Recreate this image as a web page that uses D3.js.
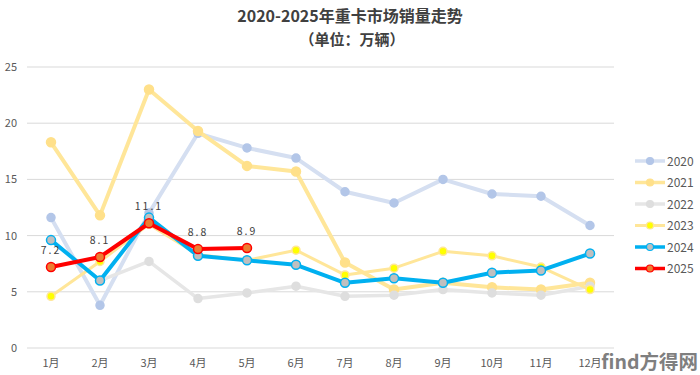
<!DOCTYPE html>
<html>
<head>
<meta charset="utf-8">
<script src="https://cdn.jsdelivr.net/npm/d3@7"></script>
<style>
  html, body { margin: 0; padding: 0; background: #fff; }
  svg { display: block; }
</style>
</head>
<body>
<div id="chart"></div>
<script>
// 2020-2025 重卡月销量（万辆）
const months = ["1月", "2月", "3月", "4月", "5月", "6月", "7月", "8月", "9月", "10月", "11月", "12月"];
const years = ["2020", "2021", "2022", "2023", "2024", "2025"];
const s2020 = [11.6, 3.8, 12.0, 19.1, 17.8, 16.9, 13.9, 12.9, 15.0, 13.7, 13.5, 10.9];
const s2021 = [18.3, 11.8, 23.0, 19.3, 16.2, 15.7, 7.6, 5.2, 5.8, 5.4, 5.2, 5.8];
const s2022 = [null, 6.0, 7.7, 4.4, 4.9, 5.5, 4.6, 4.7, 5.2, 4.9, 4.7, 5.5];
const s2023 = [4.6, 7.7, 11.0, 8.3, 7.8, 8.7, 6.5, 7.1, 8.6, 8.2, 7.2, 5.2];
const s2024 = [9.6, 6.0, 11.6, 8.2, 7.8, 7.4, 5.8, 6.2, 5.8, 6.7, 6.9, 8.4];
const s2025 = [7.2, 8.1, 11.1, 8.8, 8.9];
const yTicks = [0, 5, 10, 15, 20, 25];

const W = 700, H = 375;
const ML = 27, MR = 86, TOP = 67, BOT = 27;

// 每年样式：线色、线宽、点填充、点描边
const STY = {
  "2020": { line: "#d5dff1", w: 4, fill: "#b3c6e8", stroke: "#b3c6e8", r: 4 },
  "2021": { line: "#ffe699", w: 4, fill: "#ffe08a", stroke: "#ffe08a", r: 4.5 },
  "2022": { line: "#e6e6e6", w: 3.5, fill: "#dedede", stroke: "#dedede", r: 4 },
  "2023": { line: "#ffe699", w: 3, fill: "#ffff00", stroke: "#ffe699", r: 4 },
  "2024": { line: "#00b0f0", w: 4, fill: "#bfbfbf", stroke: "#00b0f0", r: 4.5 },
  "2025": { line: "#ff0000", w: 4, fill: "#ed7d31", stroke: "#ff0000", r: 4.5 },
};
const SERIES = [s2020, s2021, s2022, s2023, s2024, s2025];

const x = d3.scalePoint().domain(months).range([51, 590]);
const y = d3.scaleLinear().domain([0, 25]).range([H - BOT, TOP]);

const svg = d3.select("#chart").append("svg")
  .attr("width", W).attr("height", H)
  .attr("viewBox", `0 0 ${W} ${H}`);

const FONT = `"Noto Sans CJK SC", "Noto Sans", sans-serif`;

// 标题
svg.append("text").attr("x", 350).attr("y", 22)
  .attr("text-anchor", "middle")
  .attr("style", `font:bold 16px ${FONT};fill:#404040`)
  .text("2020-2025年重卡市场销量走势");
svg.append("text").attr("x", 352).attr("y", 45)
  .attr("text-anchor", "middle")
  .attr("style", `font:bold 15px ${FONT};fill:#404040`)
  .text("（单位：万辆）");

// 网格 + y 刻度
yTicks.forEach(v => {
  svg.append("line").attr("x1", ML).attr("x2", W - MR)
    .attr("y1", y(v)).attr("y2", y(v))
    .attr("stroke", "#d9d9d9").attr("stroke-width", 1);
  svg.append("text").attr("x", 17).attr("y", y(v) + 4)
    .attr("text-anchor", "end")
    .attr("style", `font:11px ${FONT};fill:#595959`)
    .text(v);
});

// 水印（先画，刻度文字压在上面）
svg.append("text").attr("x", 698).attr("y", 369)
  .attr("text-anchor", "end")
  .attr("style", `font:bold 19.5px ${FONT};fill:#4a4a4a;opacity:0.7`)
  .text("find方得网");

// x 刻度
months.forEach(m => {
  svg.append("text").attr("x", x(m)).attr("y", H - 8)
    .attr("text-anchor", "middle")
    .attr("style", `font:11px ${FONT};fill:#595959`)
    .text(m);
});

// 折线
const line = d3.line()
  .defined(d => d.v != null)
  .x(d => x(d.m)).y(d => y(d.v));

years.forEach((yr, i) => {
  const st = STY[yr];
  const pts = SERIES[i].map((v, j) => ({ m: months[j], v }));
  svg.append("path").attr("d", line(pts))
    .attr("fill", "none").attr("stroke", st.line)
    .attr("stroke-width", st.w).attr("stroke-linejoin", "round");
  svg.append("g").selectAll("circle")
    .data(pts.filter(d => d.v != null)).join("circle")
    .attr("cx", d => x(d.m)).attr("cy", d => y(d.v)).attr("r", st.r)
    .attr("fill", st.fill).attr("stroke", st.stroke).attr("stroke-width", 1.5);
});

// 2025 数据标签
s2025.forEach((v, j) => {
  svg.append("text").attr("x", x(months[j])).attr("y", y(v) - 13)
    .attr("text-anchor", "middle")
    .attr("style", `font:10.5px ${FONT};fill:#404040;letter-spacing:2px`)
    .text(v.toFixed(1));
});

// 图例
const lg = svg.append("g").attr("transform", "translate(635, 161)");
years.forEach((yr, i) => {
  const st = STY[yr];
  const g = lg.append("g").attr("transform", `translate(0, ${i * 21.5})`);
  g.append("line").attr("x1", 0).attr("x2", 30).attr("y1", 0).attr("y2", 0)
    .attr("stroke", st.line).attr("stroke-width", Math.min(st.w, 3.5));
  g.append("circle").attr("cx", 15).attr("cy", 0).attr("r", 3.5)
    .attr("fill", st.fill).attr("stroke", st.stroke).attr("stroke-width", 1.2);
  g.append("text").attr("x", 32).attr("y", 4.5)
    .attr("style", `font:12px ${FONT};fill:#595959`)
    .text(yr);
});
</script>
</body>
</html>
